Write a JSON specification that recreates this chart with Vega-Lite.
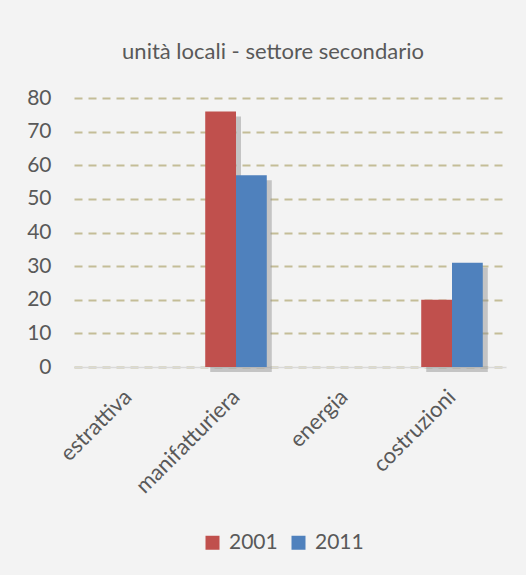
{
  "$schema": "https://vega.github.io/schema/vega-lite/v6.json",
  "width": 432,
  "height": 269,
  "autosize": {"type": "none"},
  "padding": {"left": 74, "top": 98, "right": 20, "bottom": 208},
  "background": "#f3f3f3",
  "title": {
    "text": "unità locali - settore secondario",
    "font": "Lato",
    "fontSize": 22,
    "fontWeight": "normal",
    "color": "#595959",
    "anchor": "middle",
    "dx": -17,
    "offset": 23
  },
  "data": {
    "values": [
      {"settore": "estrattiva", "anno": "2001", "valore": 0},
      {"settore": "estrattiva", "anno": "2011", "valore": 0},
      {"settore": "manifatturiera", "anno": "2001", "valore": 76},
      {"settore": "manifatturiera", "anno": "2011", "valore": 57},
      {"settore": "energia", "anno": "2001", "valore": 0},
      {"settore": "energia", "anno": "2011", "valore": 0},
      {"settore": "costruzioni", "anno": "2001", "valore": 20},
      {"settore": "costruzioni", "anno": "2011", "valore": 31}
    ]
  },
  "encoding": {
    "x": {
      "field": "settore",
      "type": "nominal",
      "sort": ["estrattiva", "manifatturiera", "energia", "costruzioni"],
      "scale": {"paddingInner": 0.43, "paddingOuter": 0.215},
      "axis": {
        "title": null,
        "labelAngle": -45,
        "labelAlign": "right",
        "labelBaseline": "middle",
        "labelFont": "Lato",
        "labelFontSize": 22,
        "labelColor": "#595959",
        "labelPadding": 26,
        "ticks": false,
        "domain": true,
        "domainColor": "#d9d9d9",
        "domainWidth": 1.5
      }
    },
    "y": {
      "field": "valore",
      "type": "quantitative",
      "scale": {"domain": [0, 80], "nice": false},
      "axis": {
        "title": null,
        "values": [0, 10, 20, 30, 40, 50, 60, 70, 80],
        "labelFont": "Lato",
        "labelFontSize": 21,
        "labelColor": "#595959",
        "labelPadding": 23,
        "ticks": false,
        "domain": false,
        "grid": true,
        "gridColor": "#c4bd97",
        "gridWidth": 2,
        "gridDash": [8, 6]
      }
    }
  },
  "layer": [
    {
      "mark": {"type": "bar", "color": "#8c8c8c", "opacity": 0.45, "yOffset": 5},
      "encoding": {
        "xOffset": {
          "field": "anno",
          "type": "nominal",
          "sort": ["2001", "2011"],
          "scale": {"range": [5, 66.56]}
        }
      }
    },
    {
      "mark": {"type": "bar"},
      "encoding": {
        "xOffset": {"field": "anno", "type": "nominal", "sort": ["2001", "2011"]},
        "color": {
          "field": "anno",
          "type": "nominal",
          "scale": {"domain": ["2001", "2011"], "range": ["#c0504d", "#4f81bd"]},
          "legend": {
            "title": null,
            "orient": "none",
            "legendX": 128,
            "legendY": 434,
            "direction": "horizontal",
            "symbolType": "square",
            "symbolSize": 196,
            "symbolStrokeWidth": 0,
            "symbolOpacity": 1,
            "labelFont": "Lato",
            "labelFontSize": 21,
            "labelColor": "#595959",
            "columnPadding": 10,
            "labelOffset": 6
          }
        }
      }
    }
  ],
  "resolve": {"scale": {"xOffset": "independent"}},
  "config": {
    "view": {"stroke": null}
  }
}
